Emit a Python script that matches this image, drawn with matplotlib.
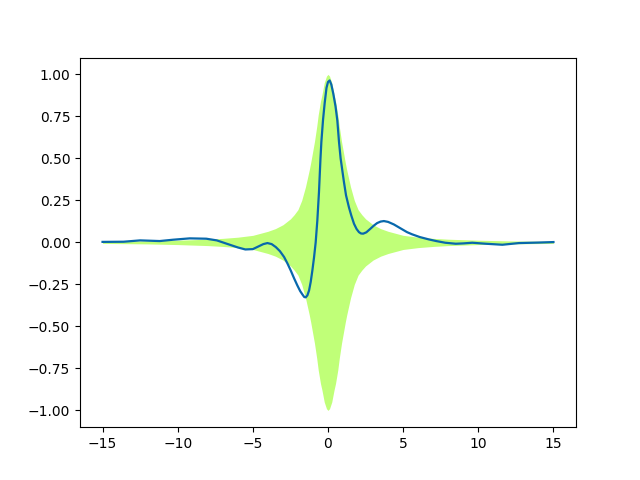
import matplotlib
matplotlib.use("Agg")
import matplotlib.pyplot as plt

# Envelope (upper half; lower half is its mirror)
env_x_pos = [0.0, 0.1, 0.25, 0.4, 0.5, 0.65, 0.75, 0.9, 1.0, 1.15, 1.25, 1.4, 1.5,
             1.75, 2.0, 2.25, 2.5, 3.0, 3.5, 4.0, 5.0, 6.0, 7.0, 8.0, 10.0, 12.0, 15.0]
env_top_pos = [1.0, 0.99, 0.95, 0.88, 0.84, 0.76, 0.69, 0.6, 0.55, 0.475, 0.43, 0.37,
               0.33, 0.25, 0.195, 0.165, 0.14, 0.105, 0.082, 0.066, 0.042, 0.031,
               0.024, 0.019, 0.013, 0.009, 0.006]

# Signal line
line_x = [-15.0, -13.6, -12.5, -11.2, -10.3, -9.2, -8.1, -7.4, -6.6, -6.0, -5.5,
          -5.0, -4.58, -4.3, -4.03, -3.75, -3.47, -3.2, -2.92, -2.7, -2.48, -2.25,
          -2.04, -1.85, -1.7, -1.58, -1.48, -1.37, -1.26, -1.15, -1.04, -0.93,
          -0.82, -0.71, -0.6, -0.5, -0.44, -0.33, -0.22, -0.1, 0.0, 0.11, 0.22,
          0.35, 0.5, 0.62, 0.73, 0.84, 0.95, 1.06, 1.2, 1.39, 1.55, 1.73, 1.9,
          2.06, 2.2, 2.34, 2.55, 2.83, 3.05, 3.27, 3.5, 3.72, 4.0, 4.38, 4.8,
          5.26, 5.6, 6.1, 6.7, 7.2, 7.8, 8.5, 9.0, 9.6, 10.5, 11.6, 12.7, 14.0, 15.0]
line_y = [0.003, 0.004, 0.012, 0.008, 0.016, 0.024, 0.022, 0.012, -0.012, -0.03, -0.042,
          -0.04, -0.022, -0.01, -0.004, -0.01, -0.028, -0.052, -0.087, -0.125, -0.167, -0.215,
          -0.256, -0.29, -0.31, -0.325, -0.327, -0.315, -0.286, -0.235, -0.167, -0.09,
          0.0, 0.13, 0.3, 0.5, 0.6, 0.73, 0.83, 0.92, 0.955, 0.964, 0.94,
          0.886, 0.81, 0.726, 0.6, 0.5, 0.43, 0.36, 0.28, 0.21, 0.16, 0.111, 0.08,
          0.061, 0.053, 0.052, 0.06, 0.082, 0.1, 0.115, 0.124, 0.127, 0.122, 0.107, 0.085,
          0.061, 0.048, 0.032, 0.018, 0.008, -0.002, -0.008, -0.006, -0.002, -0.008, -0.014, -0.004, -0.001, 0.002]

env_x = [-v for v in env_x_pos[::-1]] + env_x_pos[1:]
env_upper = env_top_pos[::-1] + env_top_pos[1:]
env_lower = [-v for v in env_upper]

fig, ax = plt.subplots(figsize=(6.4, 4.8), dpi=100)
ax.fill_between(env_x, env_lower, env_upper, color="#c0ff78", linewidth=0)
ax.plot(line_x, line_y, color="#0868ac", linewidth=1.6)
fig.savefig("out.png", dpi=100)
